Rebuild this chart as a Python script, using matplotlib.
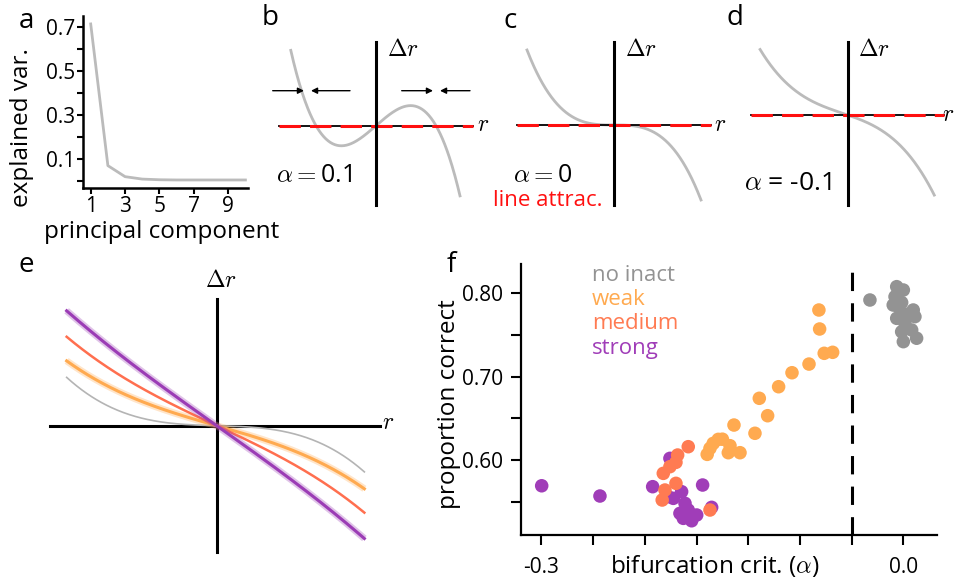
import matplotlib
matplotlib.use('Agg')
import matplotlib.pyplot as plt
import numpy as np

plt.rcParams['font.family'] = ['Open Sans', 'DejaVu Sans']
plt.rcParams['mathtext.fontset'] = 'cm'

W, H = 955, 579
fig = plt.figure(figsize=(W / 100, H / 100), dpi=100)


def box(x0, y0, x1, y1):
    return [x0 / W, 1 - y1 / H, (x1 - x0) / W, (y1 - y0) / H]


# ---------------- data ----------------
pc_index = [1, 2, 3, 4, 5, 6, 7, 8, 9, 10]
explained_var = [0.712, 0.070, 0.020, 0.009, 0.006, 0.005, 0.005, 0.005, 0.005, 0.005]

# schematic flow fields  dr = lin*r + quad*r^2 - cub*r^3  (panels b, c, d)
bcd_lin = [0.87, 0.0, -0.344]
bcd_quad = [0.0, 0.0, -0.065]
bcd_cub = [0.87, 0.41, 0.234]
bcd_labels = [r'$\alpha{=}$0.1', r'$\alpha{=}$0', r'$\alpha$ = -0.1']

# panel e curves  dr = -(lin*r + cub*r^3)
e_names = ['no inact', 'weak', 'medium', 'strong']
e_lin = [0.027, 0.287, 0.470, 0.711]
e_cub = [0.291, 0.143, 0.121, 0.054]

# panel f scatter
strong_x = [-0.2998, -0.2515, -0.2078, -0.1664, -0.1935, -0.1838, -0.1907, -0.1810,
            -0.1783, -0.1713, -0.1824, -0.1755, -0.1852, -0.1589, -0.1950]
strong_y = [0.5691, 0.5568, 0.5680, 0.5700, 0.6020, 0.5620, 0.5540, 0.5480,
            0.5400, 0.5340, 0.5300, 0.5271, 0.5360, 0.5432, 0.5560]
medium_x = [-0.1783, -0.1871, -0.1885, -0.1935, -0.1990, -0.1885, -0.1976, -0.1999, -0.1603]
medium_y = [0.6160, 0.6060, 0.5972, 0.5920, 0.5840, 0.5720, 0.5640, 0.5520, 0.5400]
weak_x = [-0.0700, -0.0694, -0.0656, -0.0586, -0.0782, -0.0923, -0.1034, -0.1194, -0.1125,
          -0.1230, -0.1404, -0.1534, -0.1576, -0.1437, -0.1354, -0.1451, -0.1603, -0.1626, -0.1500]
weak_y = [0.7801, 0.7573, 0.7281, 0.7293, 0.7152, 0.7048, 0.6880, 0.6741, 0.6532,
          0.6321, 0.6420, 0.6248, 0.6200, 0.6172, 0.6088, 0.6088, 0.6140, 0.6068, 0.6250]
noinact_x = [-0.0277, -0.0055, 0.0000, -0.0069, -0.0084, -0.0042, 0.0082, 0.0096,
             -0.0055, 0.0013, -0.0014, 0.0069, 0.0000, 0.0110, 0.0027, -0.0014]
noinact_y = [0.7921, 0.8081, 0.8041, 0.7961, 0.7861, 0.7841, 0.7801, 0.7721,
             0.7701, 0.7641, 0.7540, 0.7561, 0.7421, 0.7462, 0.7751, 0.7891]
f_xticks = [-0.3, -0.2571, -0.2143, -0.1714, -0.1286, -0.0857, -0.0429, 0.0]
f_xticklabels = ['-0.3', '', '', '', '', '', '', '0.0']
f_break = -0.0429

C_GRAY = '#939393'
C_WEAK = '#FFAA50'
C_MED = '#FF7B52'
C_STRONG = '#A03DB8'
C_CURVE = '#BBBBBB'

TICK_FS = 15
LAB_FS = 17.5
PANEL_FS = 20
MATH_FS = 17

# ---------------- panel a ----------------
a_box = (83.3, 16, 248, 187.7)
ax = fig.add_axes(box(*a_box))
ax.plot(pc_index, explained_var, color=C_CURVE, lw=2)
ax.set_xlim(0.57, 10.15)
ax.set_ylim(-0.03, 0.748)
ax.set_xticks([1, 3, 5, 7, 9])
ax.set_yticks([0.1, 0.3, 0.5, 0.7])
ax.set_yticks([0.0, 0.2, 0.4, 0.6], minor=True)
for s in ['top', 'right']:
    ax.spines[s].set_visible(False)
for s in ['left', 'bottom']:
    ax.spines[s].set_linewidth(1.8)
ax.tick_params(which='both', direction='out', length=4, width=1.5, labelsize=TICK_FS, pad=2)
ax.set_ylabel('explained var.', fontsize=LAB_FS, va='center')
ax.set_xlabel('principal component', fontsize=LAB_FS, va='center')
aw, ah = a_box[2] - a_box[0], a_box[3] - a_box[1]
ax.yaxis.set_label_coords((22.5 - a_box[0]) / aw, (a_box[3] - 127.5) / ah)
ax.xaxis.set_label_coords((161.5 - a_box[0]) / aw, (a_box[3] - 232) / ah)
fig.text(26 / W, 1 - 21 / H, 'a', fontsize=PANEL_FS, ha='center', va='center')


# ---------------- panels b, c, d ----------------
def schem(cx, cy, x0, x1, y0, y1, unit):
    a = fig.add_axes(box(x0, y0, x1, y1))
    a.set_xlim((x0 - cx) / unit, (x1 - cx) / unit)
    a.set_ylim((cy - y1) / unit, (cy - y0) / unit)
    a.axis('off')
    return a


unit = 60.0
specs = [
    dict(cx=376, cy=125.7, hl=(279.3, 472.7), vl=(41.7, 205), ur=(-1.42, 1.40),
         lab=(314, 175), labfs=18, rpos=(483, 125), drpos=(403, 50), letter=('b', 270, 18)),
    dict(cx=614, cy=125, hl=(516.7, 710.7), vl=(42, 205), ur=(-1.45, 1.45),
         lab=(543, 175), labfs=18, rpos=(720, 125), drpos=(641, 50), letter=('c', 510, 21)),
    dict(cx=847.7, cy=115, hl=(751, 944), vl=(41.7, 205), ur=(-1.46, 1.443),
         lab=(788, 184), labfs=19, rpos=(948, 115), drpos=(874, 50), letter=('d', 735, 18)),
]
for i, sp in enumerate(specs):
    cx, cy = sp['cx'], sp['cy']
    a = schem(cx, cy, cx - 110, cx + 112, 20, 215, unit)
    u = np.linspace(sp['ur'][0], sp['ur'][1], 300)
    a.plot(u, bcd_lin[i] * u + bcd_quad[i] * u ** 2 - bcd_cub[i] * u ** 3,
           color=C_CURVE, lw=2, zorder=2)
    hx = [(sp['hl'][0] - cx) / unit, (sp['hl'][1] - cx) / unit]
    a.plot(hx, [0, 0], color='black', lw=1.3, zorder=3)
    a.plot(hx, [0, 0], color='#FF1010', lw=2.2, ls=(0, (7, 3)), zorder=4)
    vy = [(cy - sp['vl'][0]) / unit, (cy - sp['vl'][1]) / unit]
    a.plot([0, 0], vy, color='black', lw=2.2, zorder=5)
    a.text((sp['lab'][0] - cx) / unit, (cy - sp['lab'][1]) / unit, bcd_labels[i],
           fontsize=sp['labfs'], ha='center', va='center')
    a.text((sp['rpos'][0] - cx) / unit, (cy - sp['rpos'][1]) / unit, r'$r$',
           fontsize=MATH_FS, ha='center', va='center')
    a.text((sp['drpos'][0] - cx) / unit, (cy - sp['drpos'][1]) / unit, r'$\Delta r$',
           fontsize=MATH_FS, ha='center', va='center')
    fig.text(sp['letter'][1] / W, 1 - sp['letter'][2] / H, sp['letter'][0],
             fontsize=PANEL_FS, ha='center', va='center')
    if i == 0:
        yy = (cy - 90.7) / unit
        for (xs, xe) in [(272.7, 304), (350, 311), (401.7, 433), (470, 440)]:
            a.annotate('', xy=((xe - cx) / unit, yy), xytext=((xs - cx) / unit, yy),
                       arrowprops=dict(arrowstyle='-|>', color='black', lw=1.0,
                                       mutation_scale=9, shrinkA=0, shrinkB=0))
    if i == 1:
        a.text((547.5 - cx) / unit, (cy - 200) / unit, 'line attrac.', color='#FF1010',
               fontsize=16, ha='center', va='center')

# ---------------- panel e ----------------
ecx, ecy, eunit = 216.7, 425.7, 149.0
ae = schem(ecx, ecy, 40, 395, 262, 560, eunit)
ue = np.linspace(-1.007, 0.991, 300)
e_colors = ['#B4B4B4', C_WEAK, '#FF6F4F', '#9B3CB5']
e_lw = [1.2, 2.2, 1.8, 2.2]
e_halo = [False, True, False, True]
for k in range(4):
    ye = -(e_lin[k] * ue + e_cub[k] * ue ** 3)
    if e_halo[k]:
        ae.plot(ue, ye, color=e_colors[k], lw=5, alpha=0.3, zorder=2 + k, solid_capstyle='butt')
    ae.plot(ue, ye, color=e_colors[k], lw=e_lw[k], zorder=2.5 + k)
ae.plot([(50 - ecx) / eunit, (380 - ecx) / eunit], [0, 0], color='black', lw=2.2, zorder=1)
ae.plot([0, 0], [(ecy - 299.3) / eunit, (ecy - 551.7) / eunit], color='black', lw=2.2, zorder=1)
ae.text((388 - ecx) / eunit, (ecy - 423) / eunit, r'$r$', fontsize=MATH_FS, ha='center', va='center')
ae.text((221 - ecx) / eunit, (ecy - 281) / eunit, r'$\Delta r$', fontsize=MATH_FS,
        ha='center', va='center')
fig.text(26 / W, 1 - 265 / H, 'e', fontsize=PANEL_FS, ha='center', va='center')

# ---------------- panel f ----------------
f_box = (520.7, 263.6, 937, 535)
af = fig.add_axes(box(*f_box))
fw, fh = f_box[2] - f_box[0], f_box[3] - f_box[1]
ms = 95
af.scatter(strong_x, strong_y, s=ms, color=C_STRONG, edgecolors='none', zorder=3)
af.scatter(medium_x, medium_y, s=ms, color=C_MED, edgecolors='none', zorder=4)
af.scatter(weak_x, weak_y, s=ms, color=C_WEAK, edgecolors='none', zorder=5)
af.scatter(noinact_x, noinact_y, s=ms, color=C_GRAY, edgecolors='none', zorder=6)
af.axvline(f_break, color='black', lw=2.2, ls=(0, (6, 4)), zorder=2)
af.set_xlim(-0.3172, 0.0279)
af.set_ylim(0.510, 0.8358)
af.set_xticks(f_xticks)
af.set_xticklabels(f_xticklabels)
af.set_yticks([0.60, 0.70, 0.80])
af.set_yticklabels(['0.60', '0.70', '0.80'])
af.set_yticks([0.55, 0.65, 0.75], minor=True)
for s in ['top', 'right']:
    af.spines[s].set_visible(False)
for s in ['left', 'bottom']:
    af.spines[s].set_linewidth(1.6)
af.tick_params(which='both', direction='out', length=7, width=1.5, labelsize=TICK_FS)
af.tick_params(axis='x', pad=9)
af.tick_params(axis='y', pad=6)
af.set_ylabel('proportion correct', fontsize=LAB_FS, va='center')
af.yaxis.set_label_coords((449 - f_box[0]) / fw, (f_box[3] - 404) / fh)
af.text((715 - f_box[0]) / fw, -(566 - f_box[3]) / fh,
        r'bifurcation crit. ($\alpha$)', transform=af.transAxes, fontsize=LAB_FS,
        ha='center', va='center')
leg_colors = [C_GRAY, C_WEAK, C_MED, C_STRONG]
leg_y = [275.5, 299.3, 323.1, 348.6]
for name, col, yy in zip(e_names, leg_colors, leg_y):
    fig.text(591.8 / W, 1 - yy / H, name, color=col, fontsize=16, ha='left', va='center')
fig.text(451 / W, 1 - 265 / H, 'f', fontsize=PANEL_FS, ha='center', va='center')

fig.savefig('out.png', dpi=100)
